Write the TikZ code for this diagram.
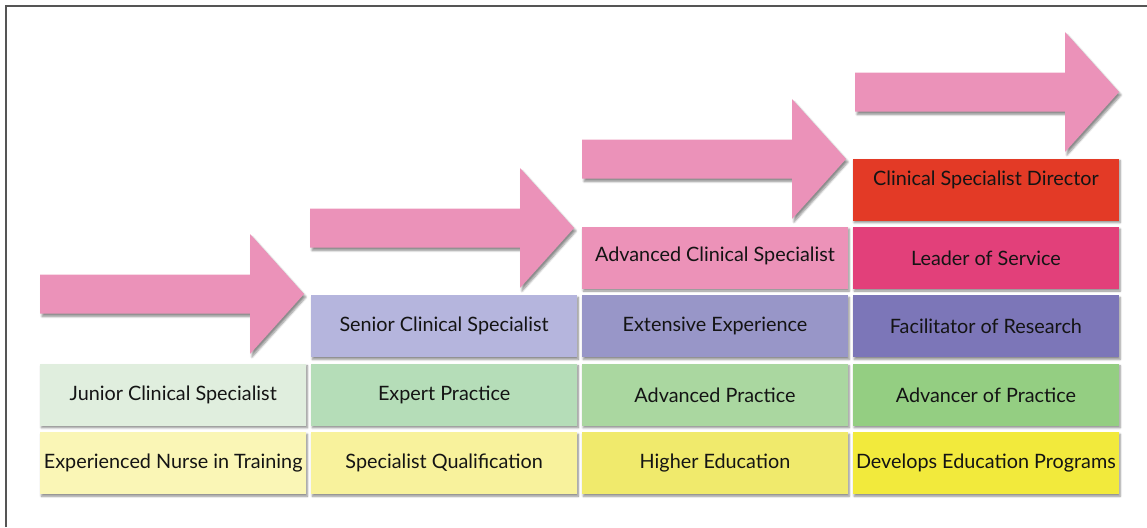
\documentclass[tikz,border=0pt]{standalone}
\usepackage{fontspec}
\setmainfont{Lato}
\usepackage{xcolor}
\usepackage{tikz}
\usetikzlibrary{positioning,shadows.blur}

\definecolor{arrowpink}{HTML}{EB92B9}
\definecolor{framegray}{HTML}{555555}
\definecolor{yellowA}{HTML}{FAF6B6}
\definecolor{yellowB}{HTML}{F8F29C}
\definecolor{yellowC}{HTML}{F0EA6C}
\definecolor{yellowD}{HTML}{F2EA3C}
\definecolor{greenA}{HTML}{E0EEDE}
\definecolor{greenB}{HTML}{B5DDB8}
\definecolor{greenC}{HTML}{AAD7A0}
\definecolor{greenD}{HTML}{94CE82}
\definecolor{purpleB}{HTML}{B5B5DD}
\definecolor{purpleC}{HTML}{9896C8}
\definecolor{purpleD}{HTML}{7C76B8}
\definecolor{pinkC}{HTML}{EC92B8}
\definecolor{magentaD}{HTML}{E2407A}
\definecolor{redD}{HTML}{E33A26}

\tikzset{
  tier/.style={minimum width=266pt, minimum height=62pt, inner sep=0pt,
    font=\fontsize{19.8}{22}\selectfont, text=black!92,
    blur shadow={shadow xshift=1.2pt, shadow yshift=-2pt, shadow opacity=45, shadow blur steps=6}},
  stepArrow/.style={fill=arrowpink,
    blur shadow={shadow xshift=2pt, shadow yshift=-3pt, shadow opacity=45, shadow blur steps=6}},
  node distance=6pt and 4.5pt
}

\begin{document}
\begin{tikzpicture}[x=1pt,y=-1pt]
    \useasboundingbox (0,0) rectangle (1147,527);

    % Frame (left and top edges only)
    \draw[framegray, line width=1.3pt] (6,527) -- (6,6) -- (1147,6);

    % Arrows, one per step
    \foreach \x/\y in {40/294, 310/228, 582/159, 855/92}
      \fill[stepArrow, shift={(\x,\y)}] (0,-19.5) -- (210,-19.5) -- (210,-60) -- (264,0)
        -- (210,60) -- (210,19.5) -- (0,19.5) -- cycle;

    % Bottom row: education
    \node[tier, fill=yellowA, anchor=north west] (edu1) at (40,432) {Experienced Nurse in Training};
    \node[tier, fill=yellowB, right=of edu1] (edu2) {Specialist Qualification};
    \node[tier, fill=yellowC, right=of edu2] (edu3) {Higher Education};
    \node[tier, fill=yellowD, right=of edu3] (edu4) {Develops Education Programs};

    % Practice row
    \node[tier, fill=greenA, above=of edu1] (prac1) {Junior Clinical Specialist};
    \node[tier, fill=greenB, above=of edu2] (prac2) {Expert Practice};
    \node[tier, fill=greenC, above=of edu3] (prac3) {Advanced Practice};
    \node[tier, fill=greenD, above=of edu4] (prac4) {Advancer of Practice};

    % Experience row
    \node[tier, fill=purpleB, above=of prac2] (exp2) {\raisebox{3pt}{Senior Clinical Specialist}};
    \node[tier, fill=purpleC, above=of prac3] (exp3) {\raisebox{-4pt}{Extensive Experience}};
    \node[tier, fill=purpleD, above=of prac4] (exp4) {Facilitator of Research};

    % Top rows
    \node[tier, fill=pinkC, above=of exp3] (lead3) {\raisebox{8pt}{Advanced Clinical Specialist}};
    \node[tier, fill=magentaD, above=of exp4] (lead4) {Leader of Service};
    \node[tier, fill=redD, above=of lead4] (dir4) {\raisebox{22pt}{Clinical Specialist Director}};
\end{tikzpicture}
\end{document}
